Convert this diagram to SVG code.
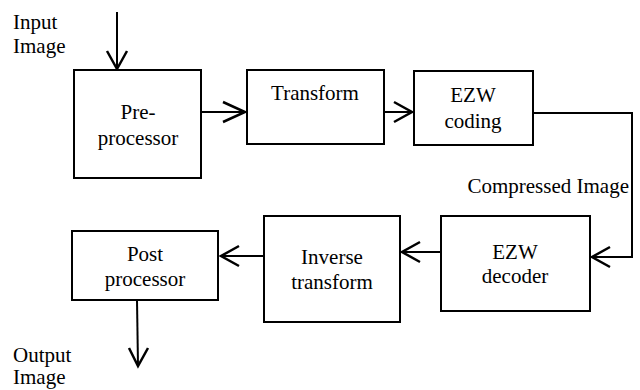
<svg xmlns="http://www.w3.org/2000/svg" width="640" height="390" viewBox="0 0 640 390">
  <style>
    .box { fill: #ffffff; stroke: #000000; stroke-width: 2; }
    .wire { fill: none; stroke: #000000; stroke-width: 2; }
    .head { fill: none; stroke: #000000; stroke-width: 2.5; stroke-linejoin: miter; }
    .t { font-family: 'Liberation Serif', 'DejaVu Serif', serif; font-size: 21px; fill: #000000; }
    .c { text-anchor: middle; }
  </style>
  <rect width="640" height="390" fill="#ffffff"/>

  <g id="connectors">
    <!-- input into pre-processor -->
    <line class="wire" x1="117" y1="12" x2="117" y2="69"/>
    <polyline class="head" points="107,51 117,69 127,51"/>
    <!-- pre-processor to transform -->
    <line class="wire" x1="201" y1="112" x2="245" y2="112"/>
    <polyline class="head" points="223,102 245,112 223,122"/>
    <!-- transform to EZW coding -->
    <line class="wire" x1="384" y1="112" x2="412" y2="112"/>
    <polyline class="head" points="394,102 412,112 394,122"/>
    <!-- EZW coding to EZW decoder -->
    <polyline class="wire" points="533,113 632,113 632,257 592,257"/>
    <polyline class="head" points="610,247 592,257 610,267"/>
    <!-- EZW decoder to inverse transform -->
    <line class="wire" x1="441" y1="252" x2="402" y2="252"/>
    <polyline class="head" points="420,242 402,252 420,262"/>
    <!-- inverse transform to post processor -->
    <line class="wire" x1="264" y1="256" x2="221" y2="256"/>
    <polyline class="head" points="239,246 221,256 239,266"/>
    <!-- post processor to output -->
    <line class="wire" x1="137" y1="300" x2="138" y2="366"/>
    <polyline class="head" points="129,348 138,366 148,348"/>
  </g>

  <g id="label-input">
    <text class="t" x="13" y="29">Input</text>
    <text class="t" x="13" y="53">Image</text>
  </g>
  <g id="label-compressed">
    <text class="t" x="629" y="193" text-anchor="end">Compressed Image</text>
  </g>
  <g id="label-output">
    <text class="t" x="13" y="362">Output</text>
    <text class="t" x="13" y="384">Image</text>
  </g>

  <g id="preprocessor">
    <rect class="box" x="74" y="70" width="127" height="108"/>
    <text class="t c" x="138" y="119">Pre-</text>
    <text class="t c" x="138" y="145">processor</text>
  </g>
  <g id="transform">
    <rect class="box" x="247" y="70" width="137" height="74"/>
    <text class="t c" x="315" y="100">Transform</text>
  </g>
  <g id="ezw-coding">
    <rect class="box" x="414" y="71" width="119" height="74"/>
    <text class="t c" x="473" y="102">EZW</text>
    <text class="t c" x="473" y="128">coding</text>
  </g>
  <g id="ezw-decoder">
    <rect class="box" x="441" y="216" width="149" height="95"/>
    <text class="t c" x="515" y="259">EZW</text>
    <text class="t c" x="515" y="283">decoder</text>
  </g>
  <g id="inverse-transform">
    <rect class="box" x="264" y="216" width="136" height="106"/>
    <text class="t c" x="332" y="264">Inverse</text>
    <text class="t c" x="332" y="289">transform</text>
  </g>
  <g id="postprocessor">
    <rect class="box" x="72" y="231" width="146" height="69"/>
    <text class="t c" x="145" y="261">Post</text>
    <text class="t c" x="145" y="286">processor</text>
  </g>
</svg>
